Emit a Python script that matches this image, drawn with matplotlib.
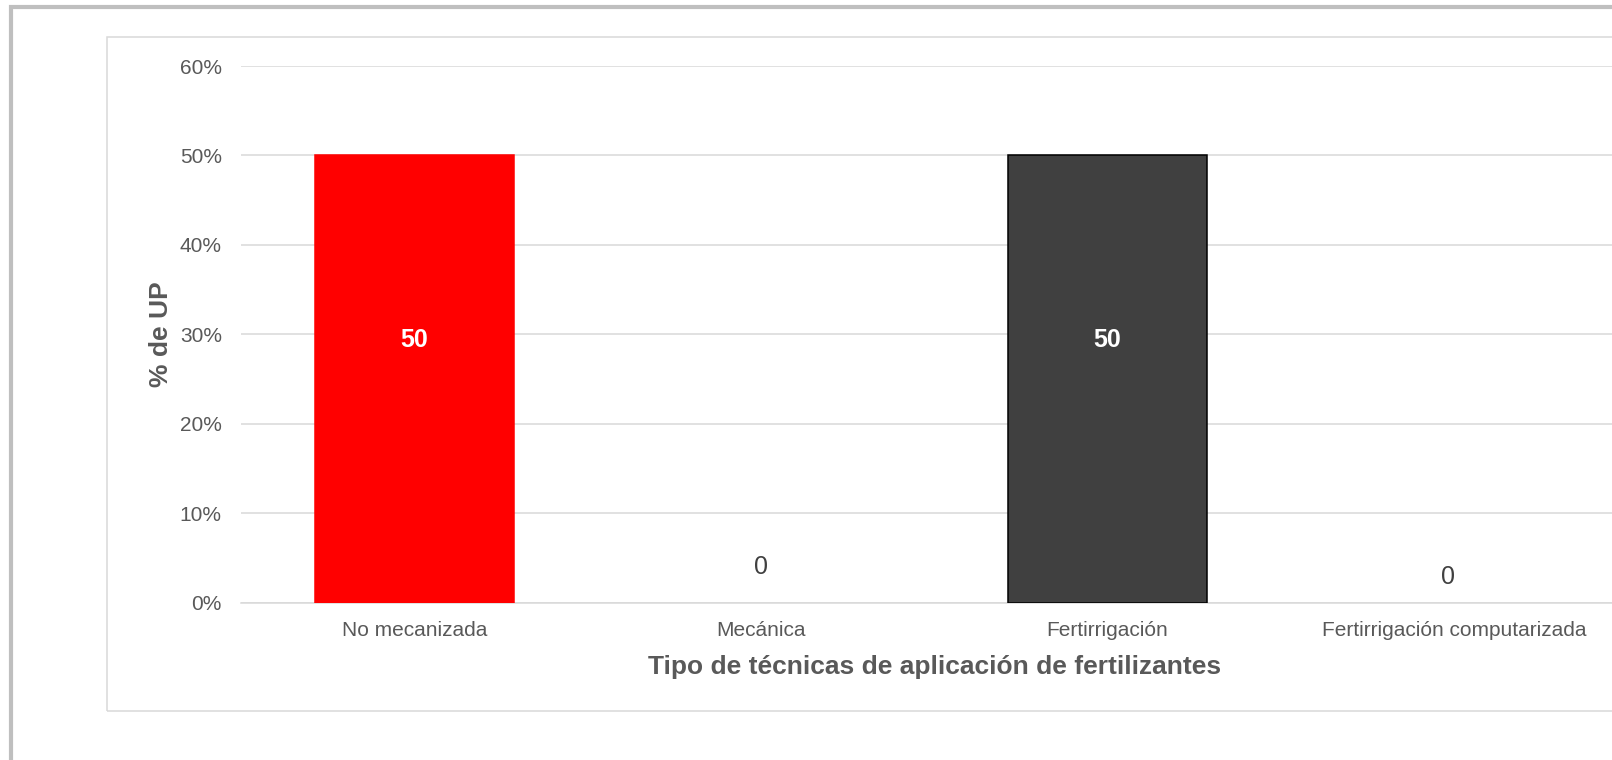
import matplotlib
matplotlib.use('Agg')
import matplotlib.pyplot as plt
from matplotlib.patches import Rectangle
from matplotlib.ticker import PercentFormatter

categorias = ['No mecanizada', 'Mecánica', 'Fertirrigación', 'Fertirrigación computarizada']
valores = [50, 0, 50, 0]
colores = ['#FF0000', 'none', '#404040', 'none']
bordes = ['#FF0000', 'none', '#000000', 'none']
yticks = [0, 10, 20, 30, 40, 50, 60]

plt.rcParams['font.family'] = ['Liberation Sans', 'DejaVu Sans']
gris = '#595959'

W, H = 1612, 760
fig = plt.figure(figsize=(W / 100, H / 100), dpi=100)

# marcos exteriores (recortados a la derecha y abajo)
fig.patches.append(Rectangle((11 / W, -0.2), 2, 1.2 - 7 / H, transform=fig.transFigure,
                             fill=False, edgecolor='#bfbfbf', linewidth=3.0))
fig.patches.append(Rectangle((107 / W, 1 - 711 / H), 2, (711 - 37) / H, transform=fig.transFigure,
                             fill=False, edgecolor='#d9d9d9', linewidth=1.1))

left, right, top, bottom = 241.25, 1627, 66, 602.5
ax = fig.add_axes([left / W, 1 - bottom / H, (right - left) / W, (bottom - top) / H])
ax.set_facecolor('none')

x = range(len(categorias))
ax.bar(x, valores, width=0.574, color=colores, edgecolor=bordes, linewidth=1.1, zorder=3)

ax.set_xlim(-0.5, len(categorias) - 0.5)
ax.set_ylim(0, 60)
ax.set_yticks(yticks)
ax.yaxis.set_major_formatter(PercentFormatter(decimals=0))
ax.grid(axis='y', color='#d9d9d9', linewidth=1.1, zorder=0)
for s in ['top', 'right', 'left']:
    ax.spines[s].set_visible(False)
ax.spines['bottom'].set_color('#d9d9d9')
ax.spines['bottom'].set_linewidth(1.1)
ax.tick_params(axis='both', length=0, labelsize=15, labelcolor=gris)
ax.tick_params(axis='y', pad=14)
ax.tick_params(axis='x', pad=13)
ax.set_xticks(list(x))
ax.set_xticklabels(categorias)

ax.set_xlabel('Tipo de técnicas de aplicación de fertilizantes', fontsize=19, fontweight='bold',
              color=gris, labelpad=11)
ax.set_ylabel('% de UP', fontsize=19, fontweight='bold', color=gris, labelpad=5)

# etiquetas de datos
pos_etiqueta = [29.4, 4.0, 29.4, 2.8]
dx_etiqueta = [0, 0, 0, -0.016]
for i, v in enumerate(valores):
    if v > 0:
        ax.text(i, pos_etiqueta[i], str(v), ha='center', va='center', fontsize=18,
                fontweight='bold', color='white', zorder=4)
    else:
        ax.text(i + dx_etiqueta[i], pos_etiqueta[i], str(v), ha='center', va='center',
                fontsize=18, color='#404040', zorder=4)

fig.savefig('out.png', dpi=100, facecolor='white')
